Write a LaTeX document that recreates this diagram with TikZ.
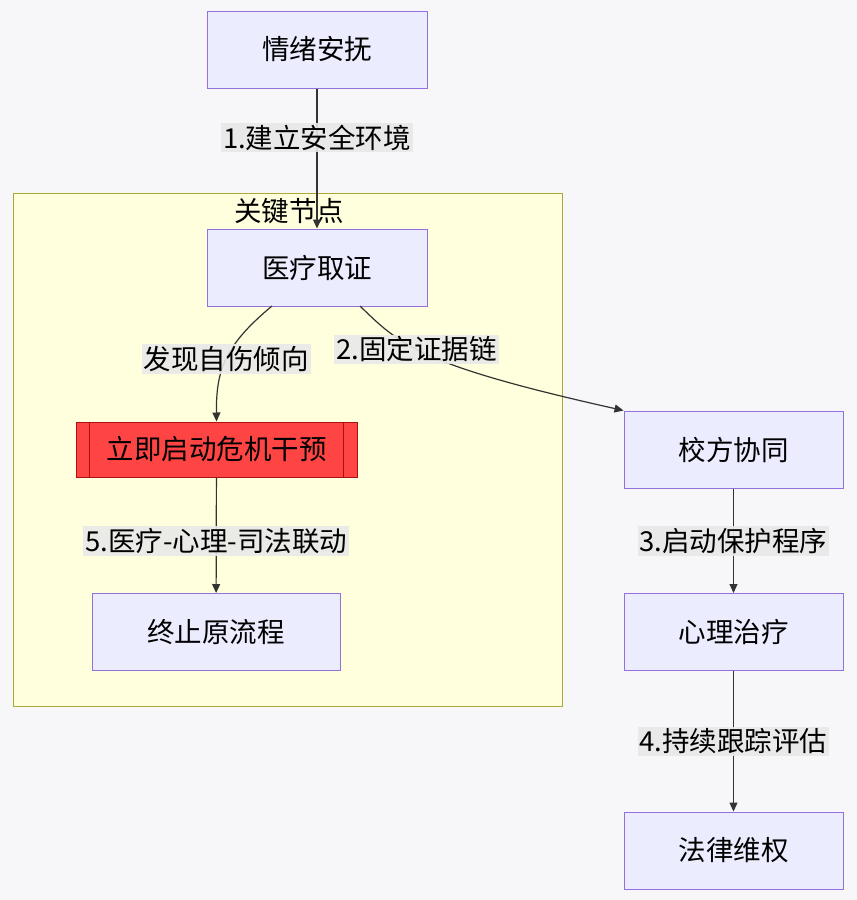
\documentclass[tikz,border=0pt]{standalone}
\usepackage{fontspec}
\setmainfont{Noto Sans CJK SC}
\usetikzlibrary{arrows.meta, positioning, shapes.multipart}
\definecolor{bgfill}{HTML}{F7F7F9}
\definecolor{nodefill}{HTML}{ECECFF}
\definecolor{nodeline}{HTML}{9370DB}
\definecolor{clfill}{HTML}{FFFFDE}
\definecolor{clline}{HTML}{AAAA33}
\definecolor{lblfill}{HTML}{E8E8E8}
\definecolor{crit}{HTML}{FF4444}
\definecolor{critline}{HTML}{AA1111}
\begin{document}
\begin{tikzpicture}[
  x=1pt, y=-1pt,
  >={Triangle[length=9pt,width=8pt]},
  font=\fontsize{27.5}{32}\selectfont,
  block/.style={
    rectangle, draw=nodeline, fill=nodefill, line width=1pt,
    minimum width=220pt, minimum height=77pt
  },
  lbl/.style={fill=lblfill, fill opacity=0.9, text opacity=1, inner sep=2pt},
  link/.style={->, line width=1.2pt, draw=black!80},
]
\fill[bgfill] (0,0) rectangle (857,900);
\useasboundingbox (0,0) rectangle (857,900);

% --- cluster ---
\draw[fill=clfill, draw=clline, line width=1pt] (13,193) rectangle (562,706);
\node (CL) at (289,211) {关键节点};

% --- nodes ---
\node[block] (EMO) at (317,49.5) {情绪安抚};
\node[block] (MED) at (317,267.5) {医疗取证};
\node[block, fill=crit, draw=critline, minimum width=281pt, minimum height=55pt] (CRI) at (216.5,449.5) {立即启动危机干预};
\draw[critline, line width=1pt] ([xshift=14pt]CRI.north west) -- ([xshift=14pt]CRI.south west)
  ([xshift=-14pt]CRI.north east) -- ([xshift=-14pt]CRI.south east);
\node[block, minimum width=248pt] (END) at (216,632) {终止原流程};
\node[block, minimum width=219pt] (SCH) at (733.5,449.5) {校方协同};
\node[block, minimum width=219pt] (PSY) at (733.5,632) {心理治疗};
\node[block, minimum width=219pt] (LAW) at (733.5,850.5) {法律维权};

% --- arrows ---
\draw[link] (EMO) -- node[lbl, pos=0.35] {1.建立安全环境} (MED);
\draw[link] (272,306) .. controls (225,345) and (216,370) .. node[lbl, pos=0.5] {发现自伤倾向} (CRI.north);
\draw[link] (360,306) .. controls (400,345) and (420,365) .. node[lbl, pos=0.43] {2.固定证据链} (SCH.north west);
\draw[link] (CRI) -- node[lbl, pos=0.55] {5.医疗-心理-司法联动} (END);
\draw[link] (SCH) -- node[lbl] {3.启动保护程序} (PSY);
\draw[link] (PSY) -- node[lbl] {4.持续跟踪评估} (LAW);
\end{tikzpicture}
\end{document}
